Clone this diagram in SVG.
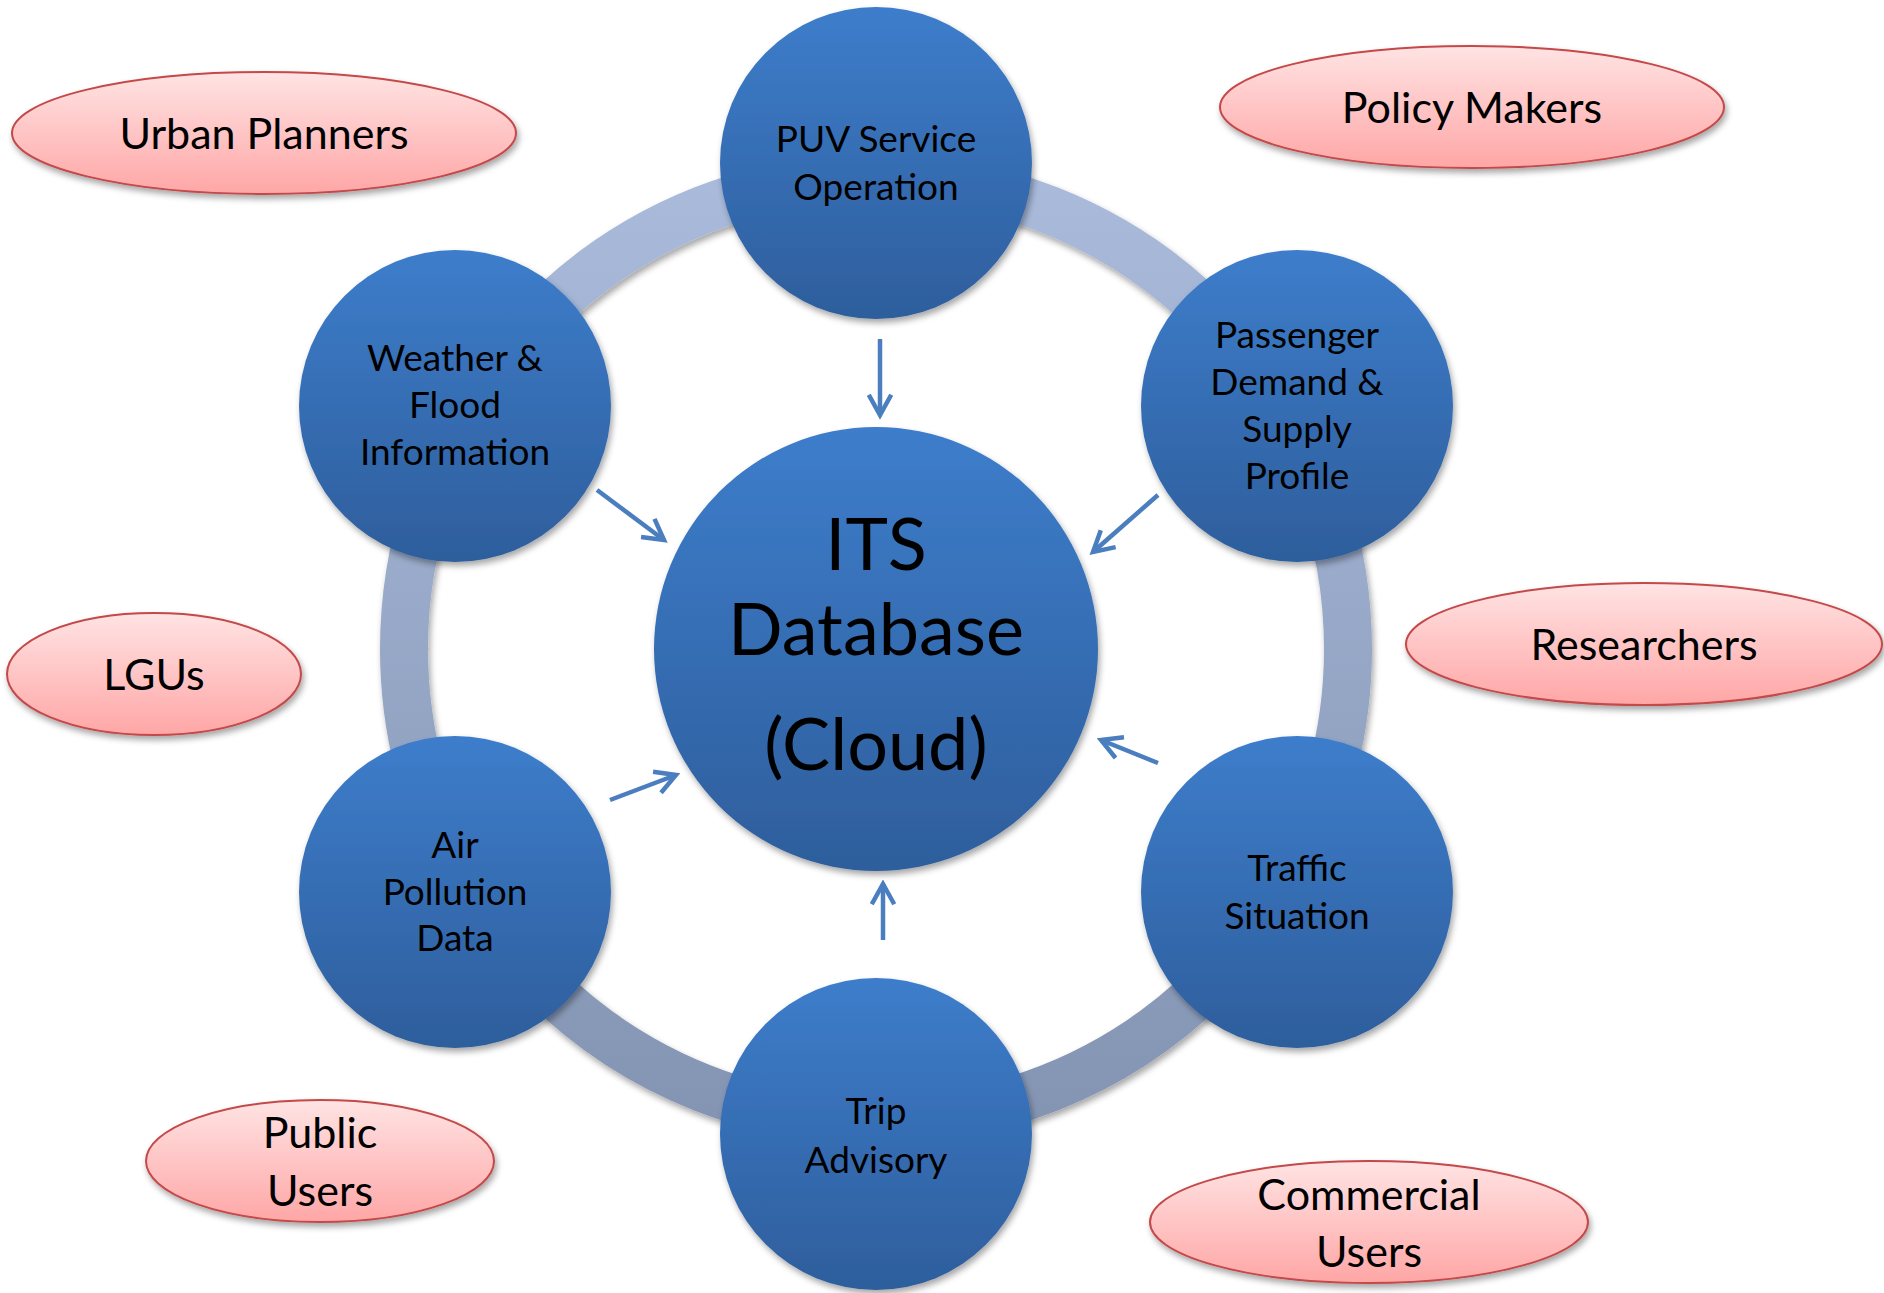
<svg xmlns="http://www.w3.org/2000/svg" width="1884" height="1293" viewBox="0 0 1884 1293">
<defs>
<linearGradient id="blue" x1="0" y1="0" x2="0" y2="1">
<stop offset="0" stop-color="#3d7dcb"/>
<stop offset="1" stop-color="#2e5e9c"/>
</linearGradient>
<linearGradient id="pink" x1="0" y1="0" x2="0" y2="1">
<stop offset="0" stop-color="#ffe3e3"/>
<stop offset="1" stop-color="#ffa6a6"/>
</linearGradient>
<linearGradient id="ringg" gradientUnits="userSpaceOnUse" x1="0" y1="177" x2="0" y2="1121">
<stop offset="0" stop-color="#a9badb"/>
<stop offset="1" stop-color="#8495b3"/>
</linearGradient>
<filter id="sh" x="-20%" y="-20%" width="140%" height="140%">
<feDropShadow dx="2" dy="4" stdDeviation="3" flood-color="#000" flood-opacity="0.35"/>
</filter>
<marker id="ah" viewBox="0 0 12 12" refX="10" refY="6" markerWidth="6" markerHeight="6" markerUnits="strokeWidth" orient="auto">
<path d="M1,1 L10,6 L1,11" fill="none" stroke="#4a7ebf" stroke-width="2"/>
</marker>
<style>
.sat{fill:url(#blue);filter:url(#sh)}
.ell{fill:url(#pink);stroke:#c4484a;stroke-width:2;filter:url(#sh)}
.t{font-family:Lato,"Open Sans","Liberation Sans",sans-serif;fill:#000;text-anchor:middle}
.ts{font-size:37px}
.te{font-size:43px}
.tb{font-size:72px}
.arr{fill:none;stroke:#4a7ebf;stroke-width:4.5;marker-end:url(#ah)}
</style>
</defs>
<rect width="1884" height="1293" fill="#fff"/>
<g id="ring">
<circle cx="876" cy="649" r="472" fill="none" stroke="url(#ringg)" stroke-width="48" filter="url(#sh)"/>
</g>
<g id="connectors">
<line class="arr" x1="880" y1="339" x2="880" y2="415"/>
<line class="arr" x1="597" y1="490" x2="664" y2="540"/>
<line class="arr" x1="1158" y1="495" x2="1093" y2="552"/>
<line class="arr" x1="610" y1="800" x2="676" y2="775"/>
<line class="arr" x1="1158" y1="763" x2="1101" y2="740"/>
<line class="arr" x1="883" y1="940" x2="883" y2="884"/>
</g>
<g id="its-database">
<circle class="sat" cx="876" cy="649" r="222"/>
<text class="t tb" x="876" y="570">ITS</text>
<text class="t tb" x="876" y="655">Database</text>
<text class="t tb" x="876" y="770">(Cloud)</text>
</g>
<g id="puv">
<circle class="sat" cx="876" cy="163" r="156"/>
<text class="t ts" x="876" y="152">PUV Service</text>
<text class="t ts" x="876" y="200">Operation</text>
</g>
<g id="weather">
<circle class="sat" cx="455" cy="406" r="156"/>
<text class="t ts" x="455" y="371">Weather &amp;</text>
<text class="t ts" x="455" y="418">Flood</text>
<text class="t ts" x="455" y="465">Information</text>
</g>
<g id="passenger">
<circle class="sat" cx="1297" cy="406" r="156"/>
<text class="t ts" x="1297" y="348">Passenger</text>
<text class="t ts" x="1297" y="395">Demand &amp;</text>
<text class="t ts" x="1297" y="442">Supply</text>
<text class="t ts" x="1297" y="489">Profile</text>
</g>
<g id="air">
<circle class="sat" cx="455" cy="892" r="156"/>
<text class="t ts" x="455" y="858">Air</text>
<text class="t ts" x="455" y="905">Pollution</text>
<text class="t ts" x="455" y="951">Data</text>
</g>
<g id="traffic">
<circle class="sat" cx="1297" cy="892" r="156"/>
<text class="t ts" x="1297" y="881">Traffic</text>
<text class="t ts" x="1297" y="929">Situation</text>
</g>
<g id="trip">
<circle class="sat" cx="876" cy="1134" r="156"/>
<text class="t ts" x="876" y="1124">Trip</text>
<text class="t ts" x="876" y="1173">Advisory</text>
</g>
<g id="urban-planners">
<ellipse class="ell" cx="264" cy="133" rx="252" ry="61"/>
<text class="t te" x="264" y="149">Urban Planners</text>
</g>
<g id="policy-makers">
<ellipse class="ell" cx="1472" cy="107" rx="252" ry="61"/>
<text class="t te" x="1472" y="123">Policy Makers</text>
</g>
<g id="lgus">
<ellipse class="ell" cx="154" cy="674" rx="147" ry="61"/>
<text class="t te" x="154" y="690">LGUs</text>
</g>
<g id="researchers">
<ellipse class="ell" cx="1644" cy="644" rx="238" ry="61"/>
<text class="t te" x="1644" y="660">Researchers</text>
</g>
<g id="public-users">
<ellipse class="ell" cx="320" cy="1161" rx="174" ry="61"/>
<text class="t te" x="320" y="1148">Public</text>
<text class="t te" x="320" y="1206">Users</text>
</g>
<g id="commercial-users">
<ellipse class="ell" cx="1369" cy="1222" rx="219" ry="61"/>
<text class="t te" x="1369" y="1210">Commercial</text>
<text class="t te" x="1369" y="1267">Users</text>
</g>
</svg>
